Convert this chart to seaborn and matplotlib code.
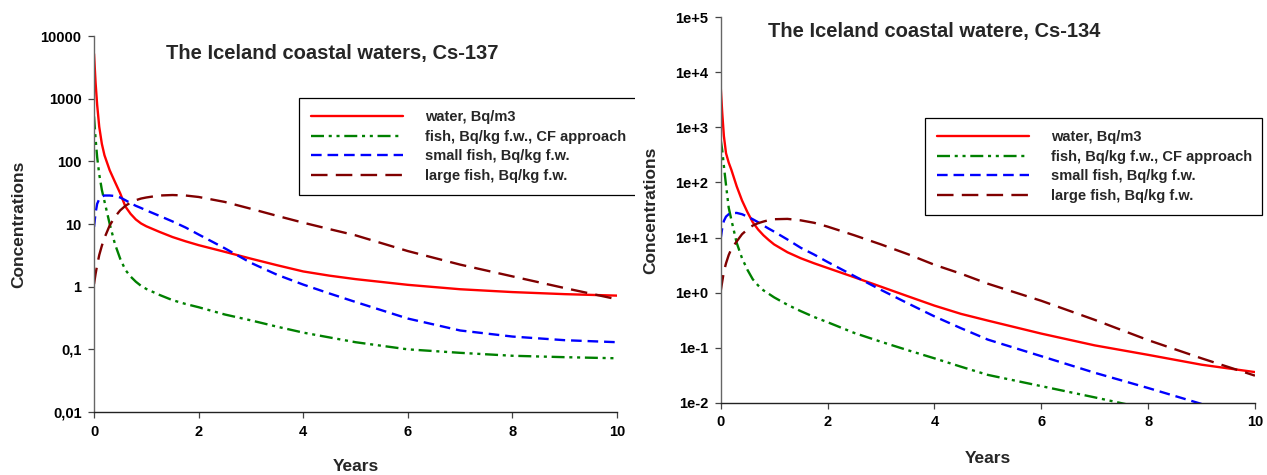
import numpy as np
import pandas as pd
import seaborn as sns
import matplotlib
matplotlib.use('Agg')
import matplotlib.pyplot as plt
from matplotlib.transforms import Bbox, TransformedBbox


# time axis, years (same grid for both panels)
years = [0, 0.03, 0.06, 0.1, 0.15, 0.2, 0.3, 0.4, 0.5, 0.6, 0.7, 0.8, 0.9, 1.0, 1.25, 1.5, 1.75,
         2, 2.5, 3, 3.5, 4, 4.5, 5, 6, 7, 8, 9, 10]

# Cs-137 (left panel)
cs137_water = [5200, 1800, 800, 355, 190, 125, 72, 47, 31, 19, 14.5, 11.8, 10.2, 9.2, 7.5, 6.2, 5.3,
               4.6, 3.6, 2.8, 2.2, 1.75, 1.5, 1.32, 1.07, 0.91, 0.82, 0.76, 0.72]
cs137_fish_cf = [520, 230, 117, 62, 35, 23, 10, 4.8, 2.8, 1.85, 1.45, 1.2, 1.03, 0.92, 0.74, 0.61, 0.53,
                 0.47, 0.36, 0.29, 0.23, 0.185, 0.155, 0.13, 0.10, 0.088, 0.079, 0.075, 0.072]
cs137_small_fish = [9, 15, 21, 25, 27.5, 28.5, 28.5, 28, 26.5, 24, 21.5, 19.5, 18, 16.5, 13.5, 11, 8.8,
                    6.8, 4.1, 2.4, 1.55, 1.08, 0.78, 0.57, 0.31, 0.20, 0.16, 0.14, 0.13]
cs137_large_fish = [1.1, 1.6, 2.2, 3.2, 4.5, 6, 9.5, 13, 16.5, 19.5, 22, 24, 25.5, 26.5, 28.5, 29, 28.5,
                    27, 22.5, 17.5, 13.5, 10.5, 8.3, 6.6, 3.7, 2.25, 1.46, 0.95, 0.63]

# Cs-134 (right panel)
cs134_water = [5600, 1800, 700, 340, 230, 170, 85, 47, 29, 19, 14, 11, 9, 7.5, 5.4, 4.2, 3.4,
               2.8, 1.9, 1.28, 0.86, 0.58, 0.41, 0.31, 0.18, 0.11, 0.074, 0.049, 0.036]
cs134_fish_cf = [600, 380, 200, 90, 35, 21, 8, 4.2, 2.6, 1.75, 1.35, 1.1, 0.95, 0.82, 0.6, 0.46, 0.36,
                 0.29, 0.185, 0.128, 0.09, 0.064, 0.045, 0.032, 0.02, 0.0125, 0.0077, 0.0049, 0.0032]
cs134_small_fish = [9.5, 15, 20, 24, 26.5, 27.5, 28, 26.5, 24, 21.5, 19, 16.5, 14.5, 12.8, 9.2, 6.5, 4.9,
                    3.6, 2.0, 1.12, 0.64, 0.37, 0.225, 0.14, 0.07, 0.035, 0.0185, 0.0095, 0.005]
cs134_large_fish = [1.05, 1.6, 2.4, 3.4, 4.8, 6.2, 8.5, 11.5, 14, 16.5, 18.2, 19.5, 20.7, 21.5, 21.8, 20.5, 18.5,
                    15.8, 11, 7.5, 5, 3.2, 2.2, 1.45, 0.71, 0.32, 0.137, 0.064, 0.031]

series_labels = ['water, Bq/m3', 'fish, Bq/kg f.w., CF approach',
                 'small fish, Bq/kg f.w.', 'large fish, Bq/kg f.w.']

left_yticks = [0.01, 0.1, 1, 10, 100, 1000, 10000]
left_yticklabels = ['0,01', '0,1', '1', '10', '100', '1000', '10000']
right_yticks = [1e-2, 1e-1, 1e0, 1e1, 1e2, 1e3, 1e4, 1e5]
right_yticklabels = ['1e-2', '1e-1', '1e+0', '1e+1', '1e+2', '1e+3', '1e+4', '1e+5']
xticks = [0, 2, 4, 6, 8, 10]

line_styles = [
    dict(color='#ff0000', linestyle='-'),
    dict(color='#008000', linestyle=(0, (5.5, 2, 1.3, 2, 1.3, 2))),
    dict(color='#0000ff', linestyle=(0, (4.5, 2.5))),
    dict(color='#800000', linestyle=(0, (7, 3.5))),
]

sns.set_theme(style='white')
plt.rcParams['font.family'] = ['Liberation Sans', 'DejaVu Sans']
plt.rcParams['font.weight'] = 'bold'
plt.rcParams['axes.labelweight'] = 'bold'


def draw_panel(ax, series, ylim, yticks, yticklabels, title, title_xy, legend_box, label_xy,
               clip_right=None):
    ax.set_yscale('log')
    for vals, lab, st in zip(series, series_labels, line_styles):
        df = pd.DataFrame({'Years': years, 'conc': vals})
        sns.lineplot(data=df, x='Years', y='conc', ax=ax, label=lab, linewidth=1.7,
                     estimator=None, errorbar=None, **st)
    ax.set_xlim(0, 10)
    ax.set_ylim(*ylim)
    ax.set_xticks(xticks)
    ax.set_xticklabels([str(x) for x in xticks])
    ax.set_yticks(yticks)
    ax.set_yticklabels(yticklabels)
    ax.minorticks_off()
    sns.despine(ax=ax)
    ax.spines['left'].set_color('#666666')
    ax.spines['bottom'].set_color('#222222')
    for sp in ['left', 'bottom']:
        ax.spines[sp].set_linewidth(1.0)
    ax.tick_params(axis='both', which='major', direction='out', length=4, width=0.9,
                   color='#444444', labelcolor='black', labelsize=10.5, bottom=True, left=True)
    ax.tick_params(axis='x', pad=5)
    ax.tick_params(axis='y', pad=5)
    for lbl in ax.get_xticklabels() + ax.get_yticklabels():
        lbl.set_fontweight('bold')
    ax.set_xlabel('Years', fontsize=12.5, fontweight='bold')
    ax.set_ylabel('Concentrations', fontsize=12.5, fontweight='bold')
    ax.xaxis.set_label_coords(0.5, label_xy[1])
    ax.yaxis.set_label_coords(label_xy[0], 0.5)
    fig.text(title_xy[0], title_xy[1], title, fontsize=14.5, fontweight='bold',
             ha='center', va='center')
    leg = ax.legend(loc='upper left', bbox_to_anchor=legend_box, bbox_transform=fig.transFigure,
                    mode='expand', borderaxespad=0, frameon=True, fancybox=False,
                    handlelength=6.3, handletextpad=1.5, labelspacing=0.38, borderpad=0.85,
                    prop={'weight': 'bold', 'size': 10.5})
    frame = leg.get_frame()
    frame.set_edgecolor('black')
    frame.set_linewidth(0.9)
    frame.set_alpha(1)
    if clip_right is not None:
        # the left legend box runs into the panel edge, its right border is cut off
        frame.set_clip_box(TransformedBbox(Bbox.from_extents(0, 0, clip_right, 1), fig.transFigure))
        frame.set_clip_on(True)


fig = plt.figure(figsize=(12.67, 4.75), dpi=100)
ax1 = fig.add_axes([0.0742, 0.1326, 0.4128, 0.7916])
ax2 = fig.add_axes([0.5688, 0.1522, 0.4217, 0.8114])

draw_panel(ax1, [cs137_water, cs137_fish_cf, cs137_small_fish, cs137_large_fish],
           (0.01, 10000), left_yticks, left_yticklabels,
           'The Iceland coastal waters, Cs-137', (0.262, 0.888),
           (0.236, 0.7937, 0.2676, 0.0), (-0.13, -0.125), clip_right=0.5015)
draw_panel(ax2, [cs134_water, cs134_fish_cf, cs134_small_fish, cs134_large_fish],
           (0.01, 1e5), right_yticks, right_yticklabels,
           'The Iceland coastal watere, Cs-134', (0.737, 0.933),
           (0.7301, 0.7516, 0.266, 0.0), (-0.117, -0.125))

fig.savefig('out.png', dpi=100)
